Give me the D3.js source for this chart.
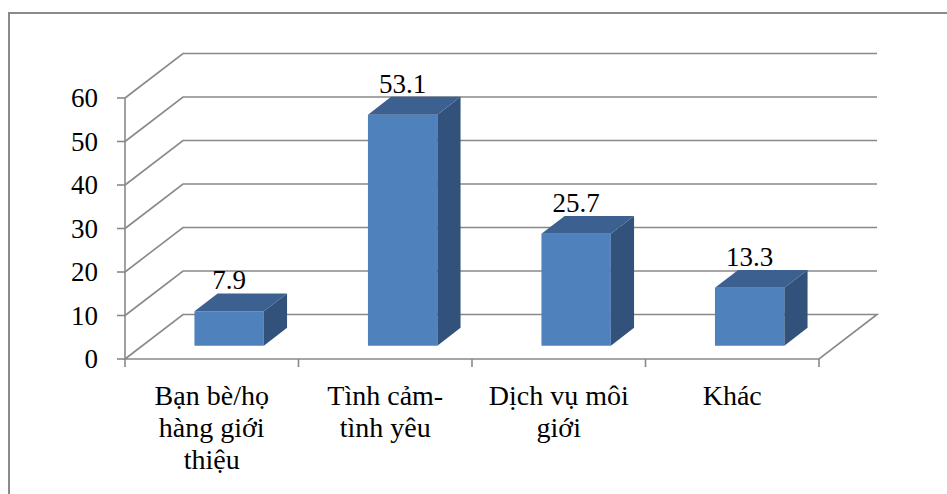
<!DOCTYPE html>
<html><head><meta charset="utf-8">
<script src="https://cdn.jsdelivr.net/npm/d3@7"></script>
<style>svg text, svg tspan { font-family: "Liberation Serif", "Times New Roman", Tinos, serif !important; }</style>
</head>
<body style="margin:0">
<script>
const categories = [["Bạn bè/họ","hàng giới","thiệu"],["Tình cảm-","tình yêu"],["Dịch vụ môi","giới"],["Khác"]];
const values = [7.9, 53.1, 25.7, 13.3];
const yTicks = [0, 10, 20, 30, 40, 50, 60];

const W = 947, H = 494;
const FONT = '"Liberation Serif", "Times New Roman", Tinos, serif';
const svg = d3.select("body").append("svg").attr("width", W).attr("height", H)
  .style("font-family", FONT, "important");

// outer border
svg.append("path").attr("d", "M9,494 L9,13 L947,13").attr("fill","none")
  .attr("stroke","#8a8a8a").attr("stroke-width",2);

const x0 = 125, x1 = 819;
const y = d3.scaleLinear().domain([0, 60]).range([359, 98]);
const x = d3.scaleBand().domain(d3.range(values.length)).range([x0, x1]).padding(0);
const DX = 58, DY = -44.5;
const P = (px, py, d) => [px + DX * d, py + DY * d];
const gridColor = "#898989";

// floor
const floor = [P(x0, y(0), 0), P(x0, y(0), 1), P(x1, y(0), 1), P(x1, y(0), 0)];
svg.append("path").attr("d", "M" + floor.map(p => p.join(",")).join("L") + "Z")
  .attr("fill","none").attr("stroke",gridColor).attr("stroke-width",1.6);

// gridlines (side wall diagonal + back wall horizontal)
yTicks.filter(t => t > 0).forEach(t => {
  const a = P(x0, y(t), 0), b = P(x0, y(t), 1), c = P(x1, y(t), 1);
  svg.append("path").attr("d", `M${a}L${b}L${c}`).attr("fill","none")
    .attr("stroke",gridColor).attr("stroke-width",1.6);
});

// value axis
svg.append("line").attr("x1",x0).attr("x2",x0).attr("y1",y(0)).attr("y2",y(60))
  .attr("stroke",gridColor).attr("stroke-width",1.6);
yTicks.forEach(t => {
  svg.append("line").attr("x1",x0-8).attr("x2",x0).attr("y1",y(t)).attr("y2",y(t))
    .attr("stroke",gridColor).attr("stroke-width",1.6);
});

// category ticks
d3.range(values.length + 1).forEach(i => {
  const xx = x0 + i * x.bandwidth();
  svg.append("line").attr("x1",xx).attr("x2",xx).attr("y1",y(0)).attr("y2",y(0)+8)
    .attr("stroke",gridColor).attr("stroke-width",1.6);
});

// bars
const bw = x.bandwidth() * 0.4, d0 = 0.3, d1 = 0.7;
values.forEach((v, i) => {
  const cx = x(i) + x.bandwidth() / 2;
  const l = cx - bw / 2, r = cx + bw / 2;
  const fl = P(l, y(0), d0), fr = P(r, y(0), d0), tl = P(l, y(v), d0), tr = P(r, y(v), d0);
  const btl = P(l, y(v), d1), btr = P(r, y(v), d1), bbr = P(r, y(0), d1);
  svg.append("path").attr("d", `M${fl}L${fr}L${tr}L${tl}Z`).attr("fill","#4F81BD");
  svg.append("path").attr("d", `M${fr}L${bbr}L${btr}L${tr}Z`).attr("fill","#32527C");
  svg.append("path").attr("d", `M${tl}L${tr}L${btr}L${btl}Z`).attr("fill","#3C6190");
});

// texts
yTicks.forEach(t => {
  svg.append("text").attr("x",98).attr("y",y(t)+9).attr("text-anchor","end")
    .style("font-family",FONT,"important").attr("font-size",27).text(t);
});
values.forEach((v, i) => {
  const cx = x(i) + x.bandwidth() / 2;
  const lx = cx + DX * d0, ly = y(v) + DY * d1;
  svg.append("text").attr("x", lx).attr("y", ly - 4)
    .attr("text-anchor","middle").style("font-family",FONT,"important").attr("font-size",27).text(v);
  categories[i].forEach((line, k) => {
    svg.append("text").attr("x", cx).attr("y", 405 + k * 32).attr("text-anchor","middle")
      .style("font-family",FONT,"important").attr("font-size",28).text(line);
  });
});
</script>
</body></html>
